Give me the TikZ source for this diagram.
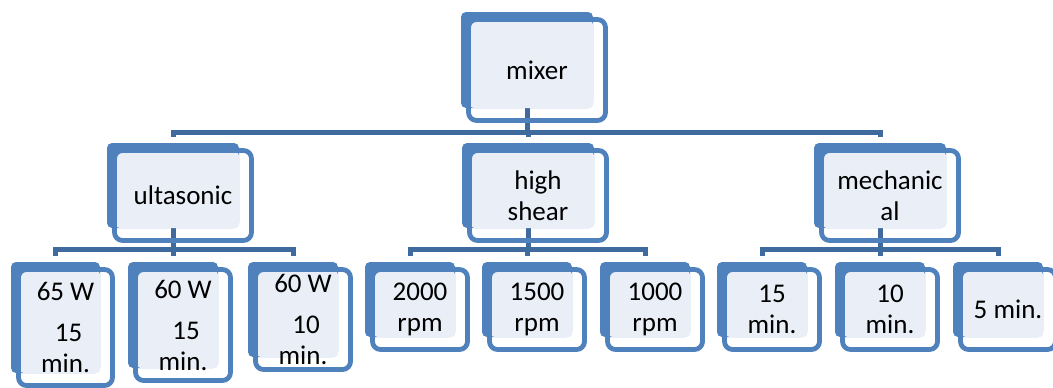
\documentclass[tikz,border=0pt]{standalone}
\usepackage{fontspec}
\setmainfont{Carlito}
\usetikzlibrary{backgrounds}
\definecolor{cardblue}{HTML}{4F81BD}
\definecolor{lightfill}{HTML}{EAEFF7}
\definecolor{linkblue}{HTML}{3E6A9E}
\tikzset{
  cardback/.style={fill=cardblue, rounded corners=5pt, inner sep=0pt, outer sep=0pt, anchor=north west},
  cardlight/.style={fill=lightfill, rounded corners=3pt},
  cardfront/.style={draw=cardblue, line width=4.8pt, rounded corners=8pt},
  cardtext/.style={align=center, font=\fontsize{27}{31}\selectfont, inner sep=0pt},
  link/.style={draw=linkblue, line width=5pt, shorten >=6pt}
}
% #1 name, #2 left, #3 top, #4 width, #5 height, #6 text
\newcommand{\mixcard}[6]{%
  \node[cardback, minimum width=#4pt, minimum height=#5pt] (#1) at (#2,#3) {};
  \fill[cardlight] ([shift={(9.5,9.5)}]#1.north west) rectangle (#1.south east);
  \draw[cardfront] ([shift={(7.5,7.5)}]#1.north west) rectangle ([shift={(12.5,12.5)}]#1.south east);
  \node[cardtext] (#1-t) at ([shift={(10,10)}]#1.center) {#6};
}
\begin{document}
\begin{tikzpicture}[x=1pt, y=-1pt]
  \useasboundingbox (0,0) rectangle (1053,388);
  % top
  \mixcard{mixer}{461}{12}{132}{96}{mixer}
  % methods
  \mixcard{ultra}{107}{143}{132}{85}{ultasonic}
  \mixcard{high}{462}{143}{132}{85}{high\\shear}
  \mixcard{mech}{814}{143}{132}{85}{mechanic\\al}
  % settings
  \mixcard{wa}{11}{262}{89}{111}{65 W\\[10pt]\ 15\\min.}
  \mixcard{wb}{128}{262}{90}{106}{60 W\\[10pt]\ 15\\min.}
  \mixcard{wc}{248}{262}{90}{95}{60 W\\[10pt]\ 10\\min.}
  \mixcard{ra}{365}{262}{90}{75}{2000\\rpm}
  \mixcard{rb}{482}{262}{90}{75}{1500\\rpm}
  \mixcard{rc}{600}{262}{90}{75}{1000\\rpm}
  \mixcard{ma}{717}{262}{90}{75}{15\\min.}
  \mixcard{mb}{835}{262}{90}{75}{10\\min.}
  \mixcard{mc}{953}{262}{90}{75}{5 min.}
  \begin{scope}[on background layer]
    \draw[link] (mixer.south) -- ++(0,24) -| (ultra.north);
    \draw[link] (mixer.south) -- ++(0,24) -| (high.north);
    \draw[link] (mixer.south) -- ++(0,24) -| (mech.north);
    \foreach \p/\c in {ultra/wa, ultra/wb, ultra/wc, high/ra, high/rb, high/rc, mech/ma, mech/mb, mech/mc}
      \draw[link] (\p.south) -- ++(0,21) -| (\c.north);
  \end{scope}
\end{tikzpicture}
\end{document}
